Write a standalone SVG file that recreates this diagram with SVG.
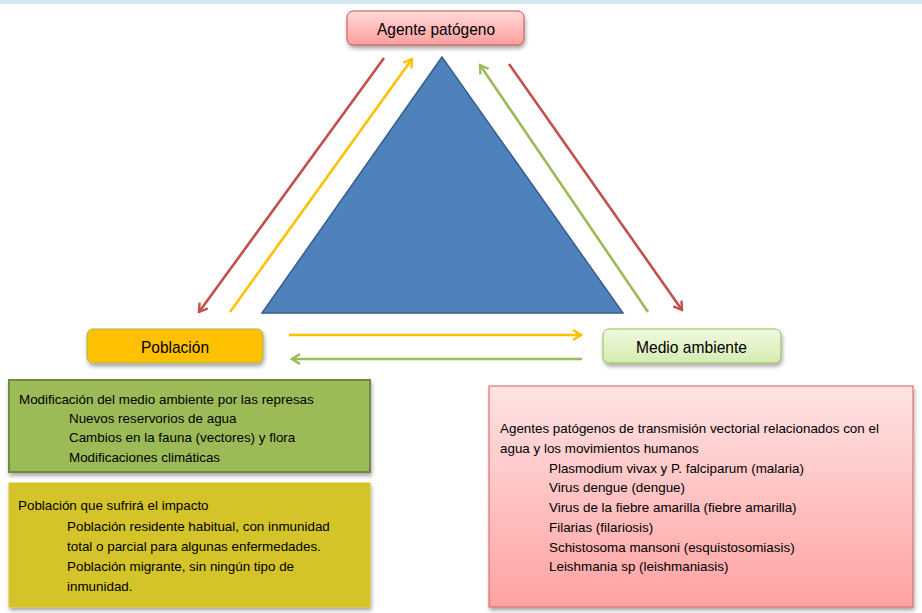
<svg xmlns="http://www.w3.org/2000/svg" width="922" height="613" viewBox="0 0 922 613">
<style>
text{font-family:"Liberation Sans",Arial,sans-serif;fill:#000}
.lbl{font-size:17px}
.t{font-size:13.4px}
.ln{fill:none;stroke-width:2.6}
</style>
<defs>
<filter id="sh" x="-10%" y="-10%" width="130%" height="140%">
<feGaussianBlur in="SourceAlpha" stdDeviation="2"/>
<feOffset dx="1" dy="2.5"/>
<feComponentTransfer><feFuncA type="linear" slope="0.35"/></feComponentTransfer>
<feMerge><feMergeNode/><feMergeNode in="SourceGraphic"/></feMerge>
</filter>
<linearGradient id="gPink" x1="0" y1="0" x2="0" y2="1"><stop offset="0" stop-color="#ffd9d9"/><stop offset="1" stop-color="#ff9e9e"/></linearGradient>
<linearGradient id="gPinkBig" x1="0" y1="0" x2="0" y2="1"><stop offset="0" stop-color="#ffe3e3"/><stop offset="1" stop-color="#ffa2a2"/></linearGradient>
<linearGradient id="gGreen" x1="0" y1="0" x2="0" y2="1"><stop offset="0" stop-color="#f0f8e2"/><stop offset="1" stop-color="#d6ecaf"/></linearGradient>
<marker id="aR" viewBox="0 0 12 12" refX="10" refY="6" markerWidth="12" markerHeight="12" markerUnits="userSpaceOnUse" orient="auto"><path d="M2,1 L10,6 L2,11" fill="none" stroke="#c0504d" stroke-width="2.4"/></marker>
<marker id="aY" viewBox="0 0 12 12" refX="10" refY="6" markerWidth="12" markerHeight="12" markerUnits="userSpaceOnUse" orient="auto"><path d="M2,1 L10,6 L2,11" fill="none" stroke="#ffc000" stroke-width="2.4"/></marker>
<marker id="aG" viewBox="0 0 12 12" refX="10" refY="6" markerWidth="12" markerHeight="12" markerUnits="userSpaceOnUse" orient="auto"><path d="M2,1 L10,6 L2,11" fill="none" stroke="#9bbb59" stroke-width="2.4"/></marker>
</defs>
<rect x="0" y="0" width="922" height="613" fill="#ffffff"/>
<rect x="0" y="0" width="922" height="4" fill="#d5e8f2"/>

<g id="triangle">
<polygon points="442,57 262,313 623,313" fill="#4f81bd" stroke="#385d8a" stroke-width="1.5"/>
</g>

<g id="connectors">
<line class="ln" x1="384" y1="58" x2="199" y2="312" stroke="#c0504d" marker-end="url(#aR)"/>
<line class="ln" x1="230" y1="312" x2="412" y2="59" stroke="#ffc000" marker-end="url(#aY)"/>
<line class="ln" x1="648" y1="312" x2="480" y2="65" stroke="#9bbb59" marker-end="url(#aG)"/>
<line class="ln" x1="509" y1="64" x2="682" y2="310" stroke="#c0504d" marker-end="url(#aR)"/>
<line class="ln" x1="289" y1="335" x2="581" y2="335" stroke="#ffc000" marker-end="url(#aY)"/>
<line class="ln" x1="582" y1="359" x2="292" y2="359" stroke="#9bbb59" marker-end="url(#aG)"/>
</g>

<g id="agente">
<rect x="347" y="11" width="177" height="34" rx="6" fill="url(#gPink)" stroke="#c0504d" stroke-width="1" filter="url(#sh)"/>
<text class="lbl" x="377" y="34.5" textLength="118" lengthAdjust="spacingAndGlyphs">Agente patógeno</text>
</g>

<g id="poblacion">
<rect x="87" y="329" width="176" height="34" rx="6" fill="#ffc000" stroke="#9bbb59" stroke-width="1" filter="url(#sh)"/>
<text class="lbl" x="141" y="352.5" textLength="68" lengthAdjust="spacingAndGlyphs">Población</text>
</g>

<g id="medio">
<rect x="603" y="329" width="178" height="34" rx="6" fill="url(#gGreen)" stroke="#9bbb59" stroke-width="1" filter="url(#sh)"/>
<text class="lbl" x="636" y="352.5" textLength="111" lengthAdjust="spacingAndGlyphs">Medio ambiente</text>
</g>

<g id="represas">
<rect x="9" y="380" width="361" height="92" fill="#9bbb59" stroke="#71893f" stroke-width="2" filter="url(#sh)"/>
<text class="t" x="19" y="404">Modificación del medio ambiente por las represas</text>
<text class="t" x="69" y="423">Nuevos reservorios de agua</text>
<text class="t" x="69" y="442">Cambios en la fauna (vectores) y flora</text>
<text class="t" x="69" y="462">Modificaciones climáticas</text>
</g>

<g id="impacto">
<rect x="9" y="483" width="361" height="124" fill="#d4c42b" stroke="#d4c42b" stroke-width="1" filter="url(#sh)"/>
<text class="t" x="18" y="510">Población que sufrirá el impacto</text>
<text class="t" x="67" y="531">Población residente habitual, con inmunidad</text>
<text class="t" x="67" y="551">total o parcial para algunas enfermedades.</text>
<text class="t" x="67" y="571">Población migrante, sin ningún tipo de</text>
<text class="t" x="67" y="591">inmunidad.</text>
</g>

<g id="agentes-vectoriales">
<rect x="489" y="386" width="424" height="221" fill="url(#gPinkBig)" stroke="#d9605e" stroke-width="1" filter="url(#sh)"/>
<text class="t" x="500" y="433">Agentes patógenos de transmisión vectorial relacionados con el</text>
<text class="t" x="500" y="453">agua y los movimientos humanos</text>
<text class="t" x="549" y="473">Plasmodium vivax y P. falciparum (malaria)</text>
<text class="t" x="549" y="492">Virus dengue (dengue)</text>
<text class="t" x="549" y="512">Virus de la fiebre amarilla (fiebre amarilla)</text>
<text class="t" x="549" y="532">Filarias (filariosis)</text>
<text class="t" x="549" y="552">Schistosoma mansoni (esquistosomiasis)</text>
<text class="t" x="549" y="571">Leishmania sp (leishmaniasis)</text>
</g>
</svg>
